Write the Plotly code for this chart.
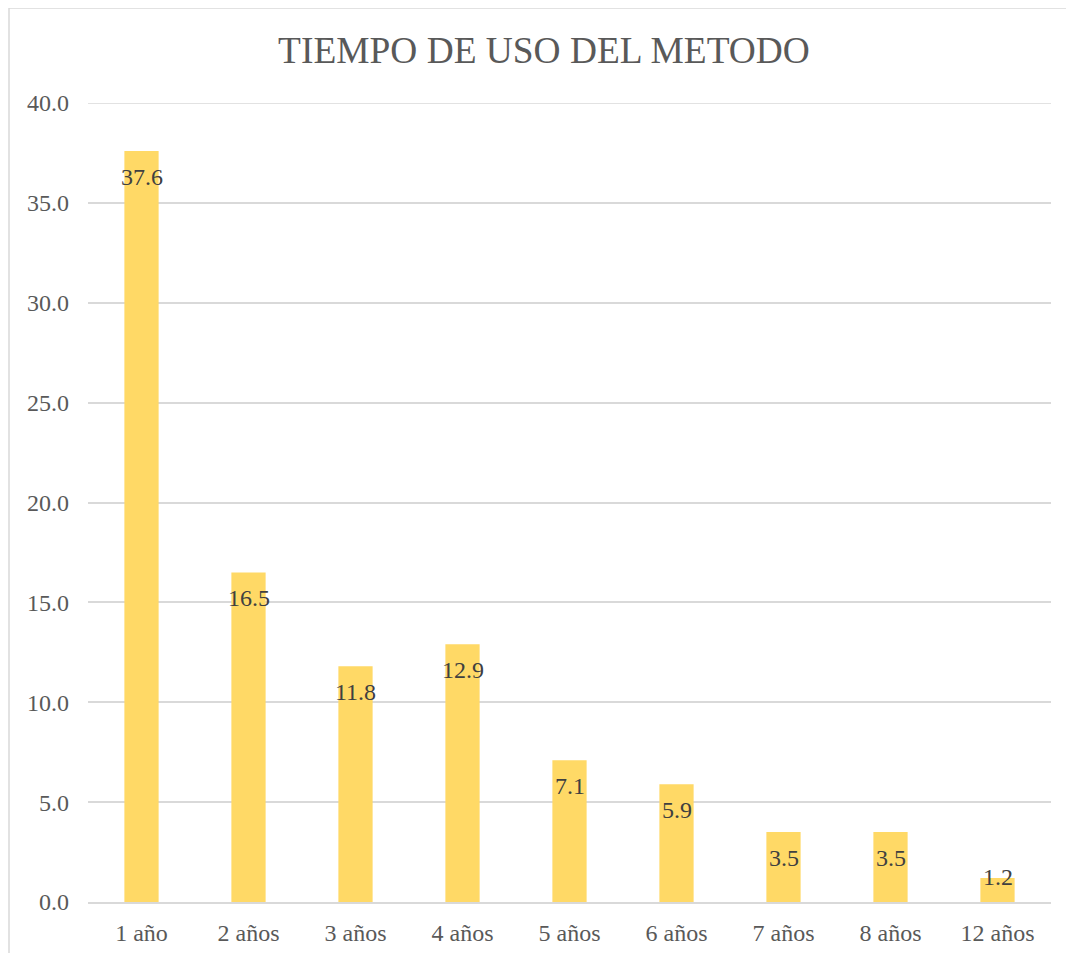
import plotly.graph_objects as go

categories = ["1 año", "2 años", "3 años", "4 años", "5 años", "6 años", "7 años", "8 años", "12 años"]
values = [37.6, 16.5, 11.8, 12.9, 7.1, 5.9, 3.5, 3.5, 1.2]
y_ticks = [0, 5, 10, 15, 20, 25, 30, 35, 40]
title_text = "TIEMPO DE USO DEL METODO"

OFF = 8  # default page body margin
W, H = 1074 - OFF, 953 - OFF
L, R, T, B = 88 - OFF, 23, 103 - OFF, 51
FONT = "Liberation Serif, Times New Roman, serif"

fig = go.Figure()
fig.add_trace(go.Bar(
    x=categories, y=values,
    marker=dict(color="#FFD966", line=dict(width=0)),
    hoverinfo="x+y",
))

plot_h = H - T - B
ppu = plot_h / 40.0
label_off = 26 / ppu
min_center = 25 / ppu
for c, v in zip(categories, values):
    fig.add_annotation(
        x=c, y=max(v - label_off, min_center), text=f"{v:.1f}",
        showarrow=False, xanchor="center", yanchor="middle",
        font=dict(family=FONT, size=24, color="#404040"),
    )

# top gridline at the range edge
fig.add_hline(y=y_ticks[-1], line=dict(color="#D9D9D9", width=1.5), layer="below")

plot_w = W - L - R
bx0 = (8 - OFF + 1 - L) / plot_w
bx1 = (W + 10 - L) / plot_w
by1 = (H - B - (7 - OFF + 1)) / plot_h
by0 = (H - B - (H + 10)) / plot_h
fig.add_shape(type="rect", xref="paper", yref="paper", x0=bx0, x1=bx1, y0=by0, y1=by1,
              line=dict(color="#D9D9D9", width=1.5), fillcolor="rgba(0,0,0,0)", layer="below")

fig.update_layout(
    width=W, height=H,
    margin=dict(l=L, r=R, t=T, b=B, pad=0, autoexpand=False),
    paper_bgcolor="white", plot_bgcolor="white",
    bargap=0.68,
    showlegend=False,
    title=dict(text=title_text, x=(544 - OFF) / W, xanchor="center", xref="container",
               y=1 - (50 - OFF) / H, yanchor="middle", yref="container",
               font=dict(family=FONT, size=37.4, color="#595959")),
    font=dict(family=FONT, size=24, color="#595959"),
)
fig.update_xaxes(
    automargin=False,
    showgrid=False, showline=True, linecolor="#D9D9D9", linewidth=1.5,
    ticks="", ticklabelstandoff=8,
    tickfont=dict(family=FONT, size=24, color="#595959"),
)
fig.update_yaxes(
    automargin=False,
    range=[0, 40], tickvals=y_ticks, ticktext=[f"{t:.1f}" for t in y_ticks],
    showgrid=True, gridcolor="#D9D9D9", gridwidth=1.5, zeroline=False, showline=False,
    ticks="", ticklabelstandoff=18,
    tickfont=dict(family=FONT, size=24, color="#595959"),
)

fig.write_html("out.html")
